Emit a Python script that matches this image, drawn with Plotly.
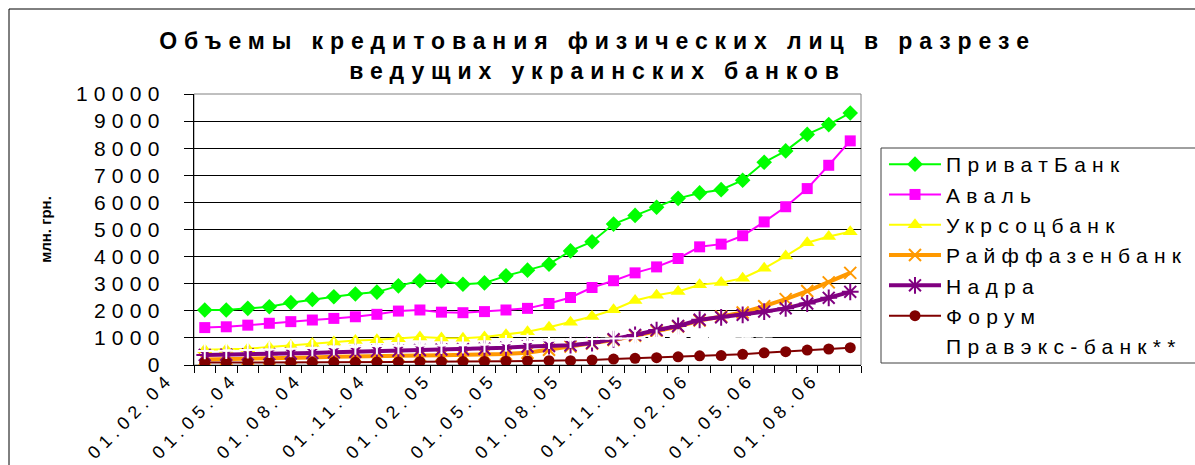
import plotly.graph_objects as go

categories = ["01.02.04", "01.03.04", "01.04.04", "01.05.04", "01.06.04", "01.07.04",
              "01.08.04", "01.09.04", "01.10.04", "01.11.04", "01.12.04", "01.01.05",
              "01.02.05", "01.03.05", "01.04.05", "01.05.05", "01.06.05", "01.07.05",
              "01.08.05", "01.09.05", "01.10.05", "01.11.05", "01.12.05", "01.01.06",
              "01.02.06", "01.03.06", "01.04.06", "01.05.06", "01.06.06", "01.07.06",
              "01.08.06"]

privat = [2030, 2030, 2090, 2150, 2300, 2420, 2520, 2620, 2690, 2920, 3110, 3100, 2980, 3030, 3290,
          3500, 3720, 4210, 4550, 5200, 5520, 5820, 6150, 6350, 6470, 6820, 7480, 7900, 8510, 8870, 9300]
aval = [1380, 1410, 1470, 1540, 1600, 1660, 1720, 1780, 1870, 1990, 2030, 1950, 1930, 1970, 2030,
        2090, 2270, 2490, 2860, 3110, 3400, 3620, 3930, 4360, 4460, 4770, 5280, 5840, 6510, 7370, 8270]
ukrsots = [560, 570, 600, 660, 720, 790, 850, 900, 930, 970, 1030, 1000, 990, 1030, 1120,
           1230, 1390, 1580, 1790, 2040, 2380, 2570, 2710, 2960, 3040, 3200, 3570, 4020, 4510, 4740, 4920]
raif = [200, 210, 220, 240, 260, 280, 300, 320, 330, 340, 350, 360, 370, 390, 410,
        450, 560, 680, 790, 920, 1080, 1250, 1420, 1640, 1790, 1940, 2170, 2430, 2730, 3050, 3400]
nadra = [370, 380, 390, 400, 420, 440, 470, 490, 520, 530, 550, 570, 580, 600, 640,
         680, 700, 730, 810, 950, 1110, 1290, 1440, 1670, 1760, 1850, 1970, 2090, 2270, 2480, 2700]
forum = [90, 90, 95, 95, 100, 100, 105, 105, 110, 115, 120, 120, 125, 130, 140,
         150, 160, 160, 185, 220, 245, 270, 300, 340, 350, 395, 450, 490, 550, 590, 640]
pravex = [520, 530, 550, 570, 600, 630, 660, 690, 700, 710, 720, 720, 730, 760, 800,
          850, 900, 940, 960, 980, 990, 1000, 1010, 1020, 1030, 1040, 1050]

tick_labels = [c if i % 3 == 0 else "" for i, c in enumerate(categories)]

FONT = "Liberation Sans, Arial, sans-serif"

series = [
    ("ПриватБанк", privat, "#00FF00", 2, dict(symbol="diamond", size=12)),
    ("Аваль", aval, "#FF00FF", 2, dict(symbol="square", size=11)),
    ("Укрсоцбанк", ukrsots, "#FFFF00", 2, dict(symbol="triangle-up", size=13)),
    ("Райффазенбанк", raif, "#FF9900", 4, dict(symbol="x-thin-open", size=12, line=dict(width=2, color="#FF9900"))),
    ("Надра", nadra, "#800080", 4, dict(symbol="asterisk-open", size=14, line=dict(width=2, color="#800080"))),
    ("Форум", forum, "#800000", 2, dict(symbol="circle", size=11)),
]

fig = go.Figure()
for name, vals, color, lw, mk in series:
    mk = dict(mk)
    mk.setdefault("color", color)
    fig.add_trace(go.Scatter(x=categories[:len(vals)], y=vals, name=name, mode="lines+markers",
                             line=dict(color=color, width=lw), marker=mk))

fig.add_trace(go.Scatter(x=categories[:len(pravex)], y=pravex, name="Правэкс-банк**",
                         mode="lines+markers",
                         line=dict(color="#FFFFFF", width=2, dash="dash"),
                         marker=dict(symbol="cross-thin-open", size=12, color="#FFFFFF",
                                     line=dict(width=2, color="#FFFFFF"))))

L, R, T, B = 194, 334, 94, 100
W, H = 1195, 465
pw, ph = W - L - R, H - T - B


def px_x(p):
    return (p - L) / pw


def px_y(p):
    return (H - B - p) / ph


fig.update_layout(
    width=W, height=H, autosize=False,
    margin=dict(l=L, r=R, t=T, b=B, pad=0),
    paper_bgcolor="white", plot_bgcolor="white",
    font=dict(family=FONT, color="black"),
    title=dict(text="<b>Объемы кредитования физических лиц в разрезе<br>ведущих украинских банков</b>",
               x=0.5, xref="container", xanchor="center",
               y=1 - 49 / H, yref="container", yanchor="top",
               font=dict(size=23, family=FONT, color="black")),
    showlegend=True,
    legend=dict(x=px_x(884), xanchor="left", y=px_y(144), yanchor="top",
                font=dict(size=21, family=FONT, color="black"),
                bgcolor="rgba(0,0,0,0)", borderwidth=0, itemwidth=52,
                tracegroupgap=0, itemclick=False),
    shapes=[
        dict(type="rect", xref="paper", yref="paper", x0=0, x1=1, y0=0, y1=1,
             line=dict(color="#808080", width=1), fillcolor="rgba(0,0,0,0)", layer="below"),
        dict(type="rect", xref="paper", yref="paper", x0=px_x(881), x1=px_x(1210),
             y0=px_y(363), y1=px_y(148), line=dict(color="#404040", width=1)),
        dict(type="rect", xref="paper", yref="paper", x0=px_x(9), x1=px_x(1210),
             y0=px_y(480), y1=px_y(9), line=dict(color="black", width=1)),
    ],
)

fig.update_xaxes(type="category", categoryorder="array", categoryarray=categories,
                 tickmode="array", tickvals=categories, ticktext=tick_labels,
                 tickson="boundaries", ticks="outside", ticklen=7, tickcolor="black", tickwidth=1,
                 tickangle=-45, tickfont=dict(size=18, family=FONT, color="black"),
                 ticklabelshift=-36, ticklabelstandoff=-5,
                 showline=True, linecolor="black", linewidth=1,
                 showgrid=False, zeroline=False, range=[-0.5, len(categories) - 0.5])

fig.update_yaxes(range=[0, 10000], dtick=1000, tick0=0, tickformat="d",
                 ticks="outside", ticklen=9, tickcolor="black", tickwidth=1,
                 tickfont=dict(size=21, family=FONT, color="black"),
                 ticklabelstandoff=14,
                 showline=True, linecolor="black", linewidth=1,
                 showgrid=True, gridcolor="black", gridwidth=1, zeroline=False,
                 title=dict(text="<b>млн. грн.</b>", font=dict(size=15, family=FONT, color="black"),
                            standoff=52))

post = """
var st = document.createElement('style');
st.textContent = '.main-svg text{letter-spacing:0.3em;} .main-svg text.ytitle{letter-spacing:0;} .main-svg .legend .scrollbox{clip-path:none !important;}';
document.head.appendChild(st);
"""

fig.write_html("out.html", post_script=post)
